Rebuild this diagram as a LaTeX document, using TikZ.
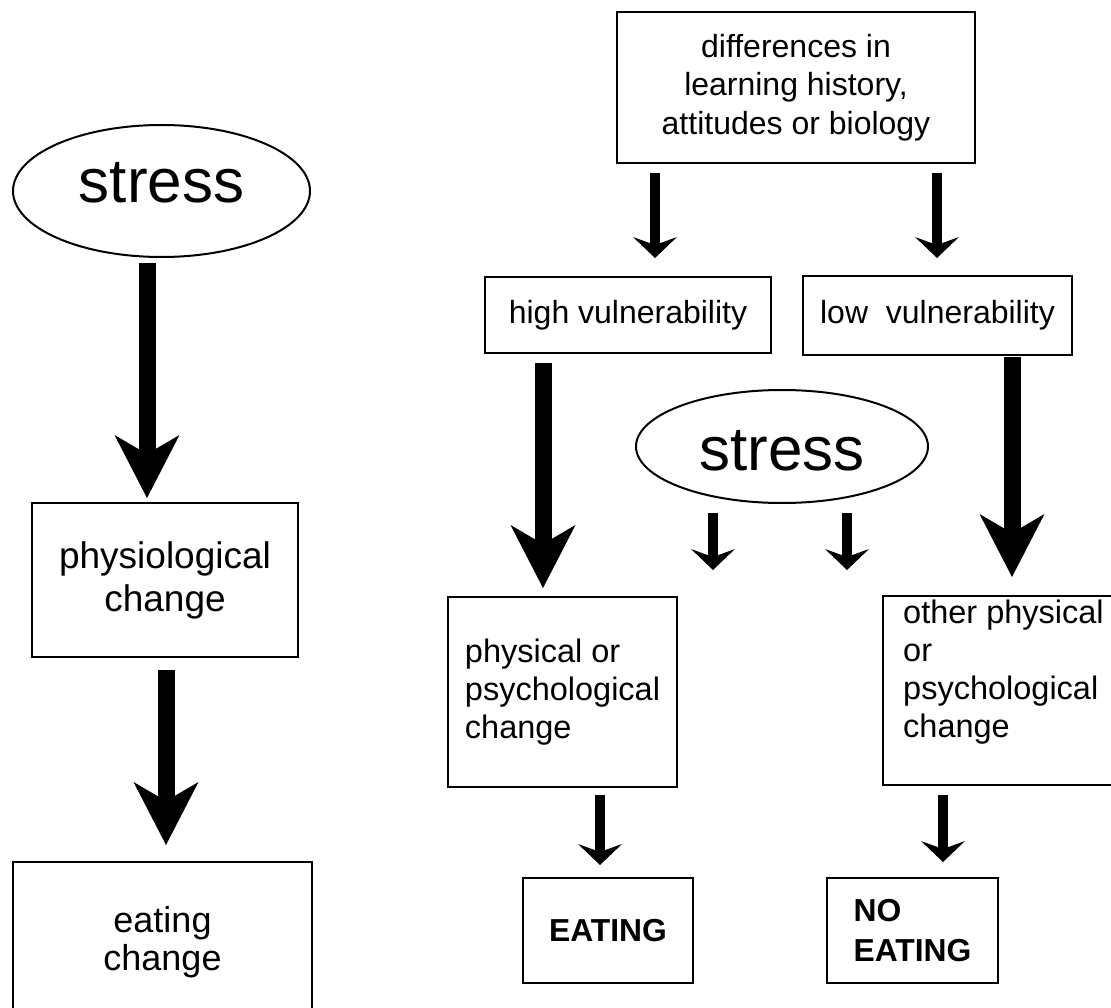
\documentclass[tikz,border=0pt]{standalone}
\usepackage{fontspec}
\setmainfont{Liberation Sans}
\usetikzlibrary{arrows.meta,shapes.geometric}
\newcommand\fs[2]{\fontsize{#1pt}{#2pt}\selectfont}
\begin{document}
\begin{tikzpicture}[x=1pt,y=-1pt,
  box/.style={draw, line width=2.5pt, rectangle, inner sep=0pt},
  oval/.style={draw, line width=2pt, ellipse, inner sep=0pt},
  txt/.style={inner sep=0pt},
  bigarr/.style={line width=17pt, -{Stealth[length=63pt,width=65pt,inset=19pt,line width=0pt]}},
  smallarr/.style={line width=10pt, -{Stealth[length=21pt,width=44pt,inset=8pt,line width=0pt]}}]
\useasboundingbox (0,0) rectangle (1111,1008);
\fill[white] (0,0) rectangle (1111,1008);
\clip (0,0) rectangle (1111,1008);

% ---------- left chain ----------
\node[oval, minimum width=297pt, minimum height=132pt, text height=41pt, text depth=17pt, font=\fs{62}{70}] (stressL) at (161.5,191) {stress};
\node[box, minimum width=266pt, minimum height=154pt, align=center, font=\fs{37}{43}] (physio) at (165,580) {physiological\\change};
\node[box, minimum width=299pt, minimum height=160pt, align=center, font=\fs{36}{38}] (eatchg) at (162.5,942) {eating\\change};

% ---------- right chain ----------
\node[box, minimum width=358pt, minimum height=151pt, align=center, font=\fs{32}{38.5}] (diff) at (796,87.5) {differences in\\learning history,\\attitudes or biology};
\node[box, minimum width=286pt, minimum height=76pt, font=\fs{32}{38}] (high) at (628,315) {high vulnerability};
\node[box, minimum width=269pt, minimum height=79pt, font=\fs{32}{38}] (low) at (937.5,315.5) {low~~vulnerability};
\node[oval, minimum width=292pt, minimum height=113pt, text height=47pt, text depth=0pt, font=\fs{62}{70}] (stressR) at (782,446.5) {stress};
\node[box, minimum width=229pt, minimum height=190pt, align=left, font=\fs{32.5}{38}] (phys) at (562.5,692) {physical or\\psychological\\change};
\node[box, minimum width=232pt, minimum height=189pt] (other) at (999,690.5) {};
\node[txt, anchor=west, align=left, font=\fs{32.5}{38}] (othertxt) at (903,671.6) {other physical\\or\\psychological\\change};
\node[box, minimum width=170pt, minimum height=105pt, font=\bfseries\fs{31.8}{40}] (eat) at (608,930.5) {EATING};
\node[box, minimum width=171pt, minimum height=105pt, align=left, font=\bfseries\fs{31.8}{40}] (noeat) at (912.5,930.5) {NO\\EATING};

% ---------- arrow end points ----------
\coordinate (a1s) at (147,263);  \coordinate (a1e) at (147,498);
\coordinate (a2s) at (166,670);  \coordinate (a2e) at (166,845);
\coordinate (a3s) at (543,363);  \coordinate (a3e) at (543,588);
\coordinate (a4s) at (1012,357); \coordinate (a4e) at (1012,577);
\coordinate (s1s) at (655,173);  \coordinate (s1e) at (655,258);
\coordinate (s2s) at (937,173);  \coordinate (s2e) at (937,258);
\coordinate (s3s) at (713,513);  \coordinate (s3e) at (713,570);
\coordinate (s4s) at (847,513);  \coordinate (s4e) at (847,570);
\coordinate (s5s) at (600,795);  \coordinate (s5e) at (600,865);
\coordinate (s6s) at (943,795);  \coordinate (s6e) at (943,862);

\draw[bigarr] (a1s) -- (a1e);
\draw[bigarr] (a2s) -- (a2e);
\draw[bigarr] (a3s) -- (a3e);
\draw[bigarr] (a4s) -- (a4e);
\draw[smallarr] (s1s) -- (s1e);
\draw[smallarr] (s2s) -- (s2e);
\draw[smallarr] (s3s) -- (s3e);
\draw[smallarr] (s4s) -- (s4e);
\draw[smallarr] (s5s) -- (s5e);
\draw[smallarr] (s6s) -- (s6e);
\end{tikzpicture}
\end{document}
